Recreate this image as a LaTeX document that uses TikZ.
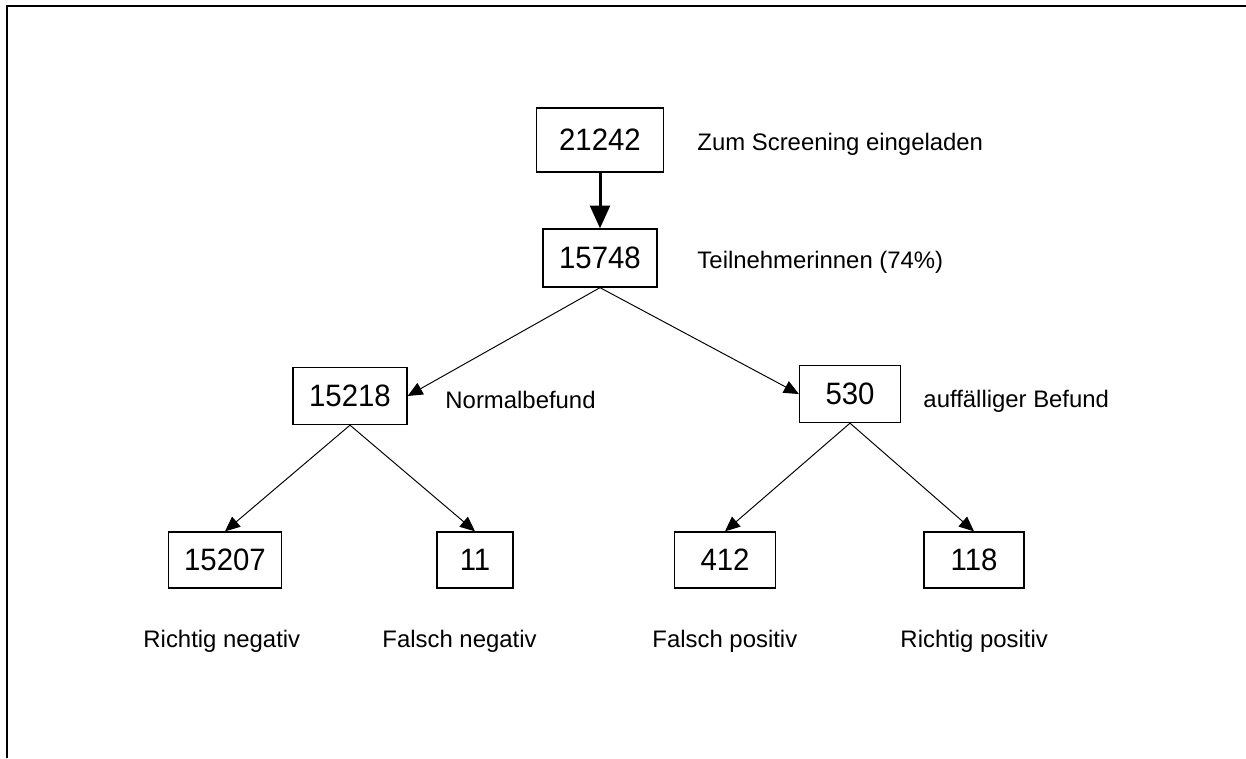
\documentclass[tikz,border=0pt]{standalone}
\usepackage{fontspec}
\setmainfont{Liberation Sans}
\newfontfamily\numfont[FakeStretch=0.95]{Liberation Sans}
\usetikzlibrary{arrows.meta}

\begin{document}
\begin{tikzpicture}[x=0.02cm,y=-0.02cm,->,>={Triangle[length=8.5pt,width=7.4pt]},line width=0.55pt]
  \tikzstyle{every node}=[inner sep=0pt]
  \tikzstyle{box}=[draw,rectangle,line width=0.75pt,minimum height=1.14cm,font=\numfont\fontsize{17.6}{18}\selectfont]
  \tikzstyle{lab}=[anchor=base west,font=\fontsize{13.6}{14}\selectfont]

  \useasboundingbox (0,0) rectangle (1246,758);
  \draw[-,line width=1.2pt] (7,758) -- (7,6) -- (1246,6);

  \node[box,minimum width=2.54cm,minimum height=1.28cm] (inv) at (600,140) {21242};
  \node[box,minimum width=2.28cm,minimum height=1.16cm] (part) at (600,258) {15748};
  \node[box,minimum width=2.28cm] (norm) at (350,396) {15218};
  \node[box,minimum width=2.02cm] (auff) at (850,394) {530};
  \node[box,minimum width=2.26cm,minimum height=1.12cm] (rn) at (225,560) {15207};
  \node[box,minimum width=1.52cm,minimum height=1.12cm] (fn) at (475,560) {11};
  \node[box,minimum width=2.02cm,minimum height=1.12cm] (fp) at (725,560) {412};
  \node[box,minimum width=2.00cm,minimum height=1.12cm] (rp) at (974,560) {118};

  \node[lab] (invtxt) at (697,150) {Zum Screening eingeladen};
  \node[lab] (parttxt) at (697,268) {Teilnehmerinnen (74\%)};
  \node[lab] (normtxt) at (445,408) {Normalbefund};
  \node[lab] (aufftxt) at (923,407) {auffälliger Befund};
  \node[lab] (rntxt) at (143,647) {Richtig negativ};
  \node[lab] (fntxt) at (382,647) {Falsch negativ};
  \node[lab] (fptxt) at (652,647) {Falsch positiv};
  \node[lab] (rptxt) at (900,647) {Richtig positiv};

  \draw[line width=1.7pt,>={Triangle[length=13pt,width=11.3pt]}] (inv) -- (part);
  \path (part.south) edge (norm.east)
        (part.south) edge (auff.west)
        (norm.south) edge (rn.north)
        (norm.south) edge (fn.north)
        (auff.south) edge (fp.north)
        (auff.south) edge (rp.north);
\end{tikzpicture}
\end{document}
